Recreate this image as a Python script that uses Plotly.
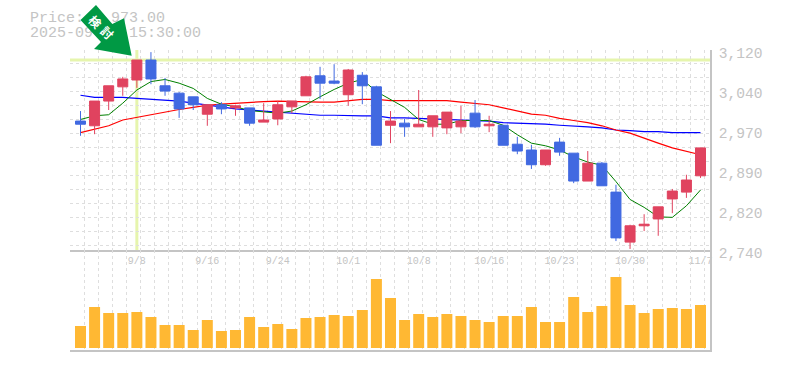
import plotly.graph_objects as go

DATES = ["9/2","9/3","9/4","9/5","9/8","9/9","9/10","9/11","9/12","9/16","9/17","9/18","9/19","9/22","9/24",
         "9/25","9/26","9/29","9/30","10/1","10/2","10/3","10/6","10/7","10/8","10/9","10/10","10/14","10/15","10/16",
         "10/17","10/20","10/21","10/22","10/23","10/24","10/27","10/28","10/29","10/30","10/31","11/4","11/5","11/6","11/7"]
LABELLED = ["9/8","9/16","9/24","10/1","10/8","10/16","10/23","10/30","11/7"]

OPEN = [2985,2976,3023,3050,3063,3101,3052,3038,3031,2998,3016,3010,3010,2983,2989,3012,3033,3071,3061,3035,3072,3050,2977,2981,2974,
        2974,2972,2974,3000,2976,2977,2941,2930,2902,2945,2924,2871,2905,2850,2755,2786,2799,2837,2850,2881]
HIGH = [3004,3023,3052,3069,3101,3116,3067,3040,3031,3017,3021,3016,3010,3019,3023,3023,3071,3088,3093,3084,3078,3052,3004,2989,3044,
        2995,3002,3014,3025,2995,2977,2955,2940,2930,2953,2924,2928,2907,2864,2788,2808,2822,2856,2883,2934]
LOW = [2957,2960,3006,3033,3048,3055,3033,2991,3006,2976,2998,2995,2976,2983,2977,3000,3033,3027,3055,3014,3017,2939,2943,2955,2974,
       2955,2960,2962,2972,2964,2939,2922,2894,2900,2919,2867,2871,2862,2757,2742,2776,2767,2810,2839,2877]
CLOSE = [2979,3023,3052,3065,3101,3065,3042,3008,3016,3016,3008,3014,2981,2987,3016,3023,3069,3057,3057,3082,3052,2939,2985,2974,2979,
         2995,3002,2985,2974,2979,2939,2928,2902,2930,2926,2871,2905,2862,2763,2786,2789,2822,2852,2873,2934]

MA_SHORT = [2988,2995,2997,3019,3044,3060,3064,3057,3047,3028,3017,3012,3005,3002,3000,3004,3016,3031,3045,3057,3064,3041,3026,3011,2988,
            2979,2979,2986,2986,2986,2977,2959,2943,2938,2930,2917,2907,2901,2870,2836,2821,2803,2802,2824,2854]
MA_MID = [2963,2969,2976,2987,2992,2998,3003,3007,3011,3015,3017,3019,3021,3022,3023,3022,3021,3021,3021,3024,3026,3026,3024,3024,3024,
          3024,3024,3021,3019,3016,3010,3004,2998,2996,2990,2986,2982,2976,2968,2962,2952,2943,2934,2927,2921]
MA_LONG = [3034,3030,3030,3030,3028,3026,3025,3023,3019,3015,3011,3008,3006,3004,3001,3000,2998,2996,2996,2995,2995,2995,2991,2991,2990,
           2989,2988,2986,2986,2985,2982,2981,2981,2979,2977,2976,2974,2972,2968,2967,2965,2965,2963,2963,2963]

VOLUME = [22,41,35,35,36,31,23,23,18,28,17,18,31,21,24,19,30,31,33,32,38,69,50,
          28,34,31,34,32,28,26,32,32,41,26,26,51,36,42,71,43,35,39,40,39,43]

PRICE_TICKS = [3120,3044,2968,2892,2816,2740]
PRICE_TEXT = ["3,120","3,040","2,970","2,890","2,820","2,740"]
CROSS_DATE = "9/8"
CROSS_PRICE = 3101
TITLE_LINES = ["Price: 2,973.00", "2025-09-08 15:30:00"]
BADGE_CHARS = ["検", "討"]

W, H = 785, 370
GREY = "#C4C4C4"
GRID = "#DEDEDE"
MONO = "Liberation Mono, DejaVu Sans Mono, monospace"
XR = [-0.745, 44.674]
idx = list(range(len(DATES)))
minor_x = [-0.72] + [i + 0.27 for i in idx]
minor_y = [3120 - 26.68 * k + 1.5 for k in range(15)]

fig = go.Figure()
fig.add_trace(go.Bar(x=idx, y=VOLUME, marker=dict(color="#FFB833", line_width=0), width=0.78,
                     xaxis="x2", yaxis="y2", hoverinfo="skip"))
for series, color, w in [(MA_LONG, "#0000FF", 1.2), (MA_MID, "#FF0000", 1.2), (MA_SHORT, "#008000", 1)]:
    fig.add_trace(go.Scatter(x=idx, y=series, mode="lines", line=dict(color=color, width=w),
                             xaxis="x", yaxis="y", hoverinfo="skip"))
fig.add_trace(go.Candlestick(x=idx, open=OPEN, high=HIGH, low=LOW, close=CLOSE,
                             increasing=dict(line=dict(color="#E0435F", width=1), fillcolor="#E0435F"),
                             decreasing=dict(line=dict(color="#4169E1", width=1), fillcolor="#4169E1"),
                             whiskerwidth=0, xaxis="x", yaxis="y3", hoverinfo="skip"))
fig.add_trace(go.Scatter(x=[30, 30], y=[18, 33], text=TITLE_LINES, mode="text", textposition="middle right",
                         textfont=dict(family=MONO, size=15, color=GREY), xaxis="x4", yaxis="y4",
                         hoverinfo="skip"))

common_x = dict(domain=[70 / W, 710 / W], range=XR, showgrid=False, zeroline=False, showline=True, automargin=False,
                linecolor=GREY, linewidth=1.5, ticks="",
                minor=dict(tickvals=minor_x, showgrid=True, gridcolor=GRID, griddash="3px,3px", gridwidth=1, ticks=""))
fig.update_layout(
    width=W, height=H, margin=dict(l=0, r=0, t=0, b=0), autosize=False,
    paper_bgcolor="white", plot_bgcolor="rgba(0,0,0,0)", showlegend=False, boxgap=0.29, boxgroupgap=0, barmode="overlay",
    xaxis=dict(**common_x, anchor="y", tickmode="array", tickvals=[DATES.index(d) for d in LABELLED],
               ticktext=LABELLED, tickfont=dict(family=MONO, size=10, color=GREY),
               rangeslider=dict(visible=False)),
    xaxis2=dict(**common_x, anchor="y2", showticklabels=False, matches="x"),
    yaxis=dict(domain=[120 / H, 320 / H], range=[2740, 3120], side="right", anchor="x", showgrid=False, automargin=False,
               zeroline=False, showline=True, linecolor=GREY, linewidth=1.5, ticks="",
               tickmode="array", tickvals=PRICE_TICKS, ticktext=PRICE_TEXT, ticklabelshift=3, ticklabelstandoff=4,
               tickfont=dict(family=MONO, size=14.6, color=GREY),
               minor=dict(tickvals=minor_y, showgrid=True, gridcolor=GRID, griddash="3px,3px", gridwidth=1, ticks="")),
    yaxis2=dict(domain=[20 / H, 120 / H], range=[-2, 98], side="right", anchor="x2", showgrid=False, automargin=False,
                zeroline=False, showline=True, linecolor=GREY, linewidth=1.5, showticklabels=False, ticks=""),
    yaxis3=dict(overlaying="y", range=[2740, 3120], side="right", anchor="x", visible=False, automargin=False),
    xaxis4=dict(domain=[0, 1], range=[0, W], visible=False, anchor="y4", automargin=False),
    yaxis4=dict(domain=[0, 1], range=[H, 0], visible=False, anchor="x4", automargin=False),
    shapes=[
        dict(type="line", xref="x", yref="y", x0=DATES.index(CROSS_DATE), x1=DATES.index(CROSS_DATE), y0=2740, y1=3120,
             line=dict(color="#E6F5AD", width=3), layer="below"),
        dict(type="line", xref="x", yref="y", x0=XR[0], x1=XR[1], y0=CROSS_PRICE, y1=CROSS_PRICE,
             line=dict(color="#E6F5AD", width=3), layer="below"),
        dict(type="path", xref="x4", yref="y4", layer="above", line_width=0, fillcolor="#009944",
             path="M96,5 L80.5,20 L101,42 L94,49 L131.7,55.7 L124,18.3 L112.3,24 Z"),
    ],
    annotations=[dict(xref="x4", yref="y4", x=px, y=py, text=f"<b>{c}</b>", showarrow=False, textangle=45,
                      font=dict(family="Noto Sans CJK JP", size=12, color="white"))
                 for c, px, py in zip(BADGE_CHARS, [96, 108], [21, 32])],
)
fig.write_html("out.html", post_script="document.body.style.margin='0';", config=dict(displayModeBar=False))
